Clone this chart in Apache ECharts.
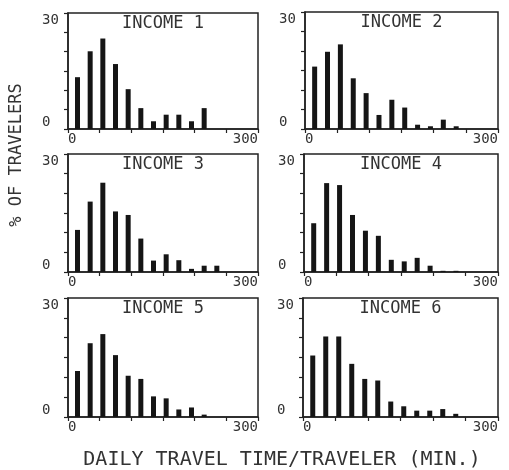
<!DOCTYPE html>
<html>
<head>
<meta charset="utf-8">
<script src="https://cdn.jsdelivr.net/npm/echarts@6/dist/echarts.min.js"></script>
<style>html,body{margin:0;padding:0;background:#fff}#c{width:509px;height:470px}</style>
</head>
<body>
<div id="c"></div>
<script>
// ---- data ----
const timeBins = [15, 35, 55, 75, 95, 115, 135, 155, 175, 195, 215, 235];
const income1 = [13.4, 20.1, 23.4, 16.8, 10.3, 5.4, 2.0, 3.7, 3.7, 2.0, 5.4];
const income2 = [16.0, 19.8, 21.7, 13.0, 9.2, 3.6, 7.5, 5.5, 1.1, 0.7, 2.4, 0.7];
const income3 = [10.7, 17.9, 22.7, 15.4, 14.5, 8.5, 2.9, 4.5, 3.0, 0.8, 1.6, 1.6];
const income4 = [12.4, 22.6, 22.1, 14.5, 10.5, 9.2, 3.1, 2.7, 3.6, 1.6, 0.3, 0.3];
const income5 = [11.6, 18.6, 20.9, 15.6, 10.4, 9.6, 5.2, 4.7, 1.9, 2.4, 0.6];
const income6 = [15.5, 20.3, 20.3, 13.4, 9.6, 9.2, 3.9, 2.7, 1.6, 1.6, 2.0, 0.8];
const panelTitles = ['INCOME 1', 'INCOME 2', 'INCOME 3', 'INCOME 4', 'INCOME 5', 'INCOME 6'];
const xTickLabels = [0, 300];
const yTickLabels = [0, 30];
const xAxisTitle = 'DAILY TRAVEL TIME/TRAVELER (MIN.)';
const yAxisTitle = '% OF TRAVELERS';

// ---- layout ----
const seriesData = [income1, income2, income3, income4, income5, income6];
const FONT = '"DejaVu Sans Mono", "Liberation Mono", monospace';
const INK = '#333';
const grids = [
  {left: 68, top: 13, width: 190, height: 116},
  {left: 305, top: 12, width: 193, height: 117},
  {left: 68, top: 154, width: 190, height: 118},
  {left: 304, top: 154, width: 194, height: 118},
  {left: 68, top: 298, width: 190, height: 119},
  {left: 303, top: 298, width: 195, height: 119}
];

const chart = echarts.init(document.getElementById('c'), null, {renderer: 'canvas'});

const option = {
  animation: false,
  backgroundColor: '#fff',
  grid: grids.map(g => Object.assign({show: true, borderColor: '#222', borderWidth: 1.5, backgroundColor: 'transparent', containLabel: false}, g)),
  xAxis: grids.map((g, i) => ({
    type: 'value', gridIndex: i, min: 0, max: 300, interval: 50,
    axisLine: {show: true, onZero: false, lineStyle: {color: '#222', width: 1.5}},
    axisTick: {show: true, inside: false, length: 4, lineStyle: {color: '#222', width: 1.2}},
    splitLine: {show: false},
    axisLabel: {
      show: true, margin: 3, fontFamily: FONT, fontSize: 14, color: INK,
      showMinLabel: true, showMaxLabel: true,
      alignMinLabel: 'left', alignMaxLabel: 'right',
      formatter: v => (xTickLabels.indexOf(v) >= 0 ? String(v) : '')
    }
  })),
  yAxis: grids.map((g, i) => ({
    type: 'value', gridIndex: i, min: 0, max: 30, interval: 5,
    axisLine: {show: true, lineStyle: {color: '#222', width: 1.5}},
    axisTick: {show: true, inside: false, length: 4, lineStyle: {color: '#222', width: 1.2}},
    splitLine: {show: false},
    axisLabel: {
      show: true, margin: 26, align: 'left', fontFamily: FONT, fontSize: 14, color: INK,
      showMinLabel: true, showMaxLabel: true,
      verticalAlignMinLabel: 'bottom', verticalAlignMaxLabel: 'top',
      formatter: v => (yTickLabels.indexOf(v) >= 0 ? String(v) : '')
    }
  })),
  series: seriesData.map((vals, i) => ({
    type: 'bar', xAxisIndex: i, yAxisIndex: i,
    barWidth: 5,
    itemStyle: {color: '#151515'},
    data: vals.map((v, k) => [timeBins[k], v])
  })),
  graphic: [
    ...grids.map((g, i) => ({
      type: 'text', x: g.left + g.width / 2, y: g.top + 11,
      style: {text: panelTitles[i], fill: INK, font: '17px ' + FONT, align: 'center', verticalAlign: 'middle'}
    })),
    {
      type: 'text', x: 282, y: 460,
      style: {text: xAxisTitle, fill: INK, font: '20px ' + FONT, align: 'center', verticalAlign: 'middle'}
    },
    {
      type: 'text', x: 17, y: 155, rotation: Math.PI / 2,
      style: {text: yAxisTitle, fill: INK, font: '17px ' + FONT, align: 'center', verticalAlign: 'middle'}
    }
  ]
};
chart.setOption(option);
</script>
</body>
</html>
